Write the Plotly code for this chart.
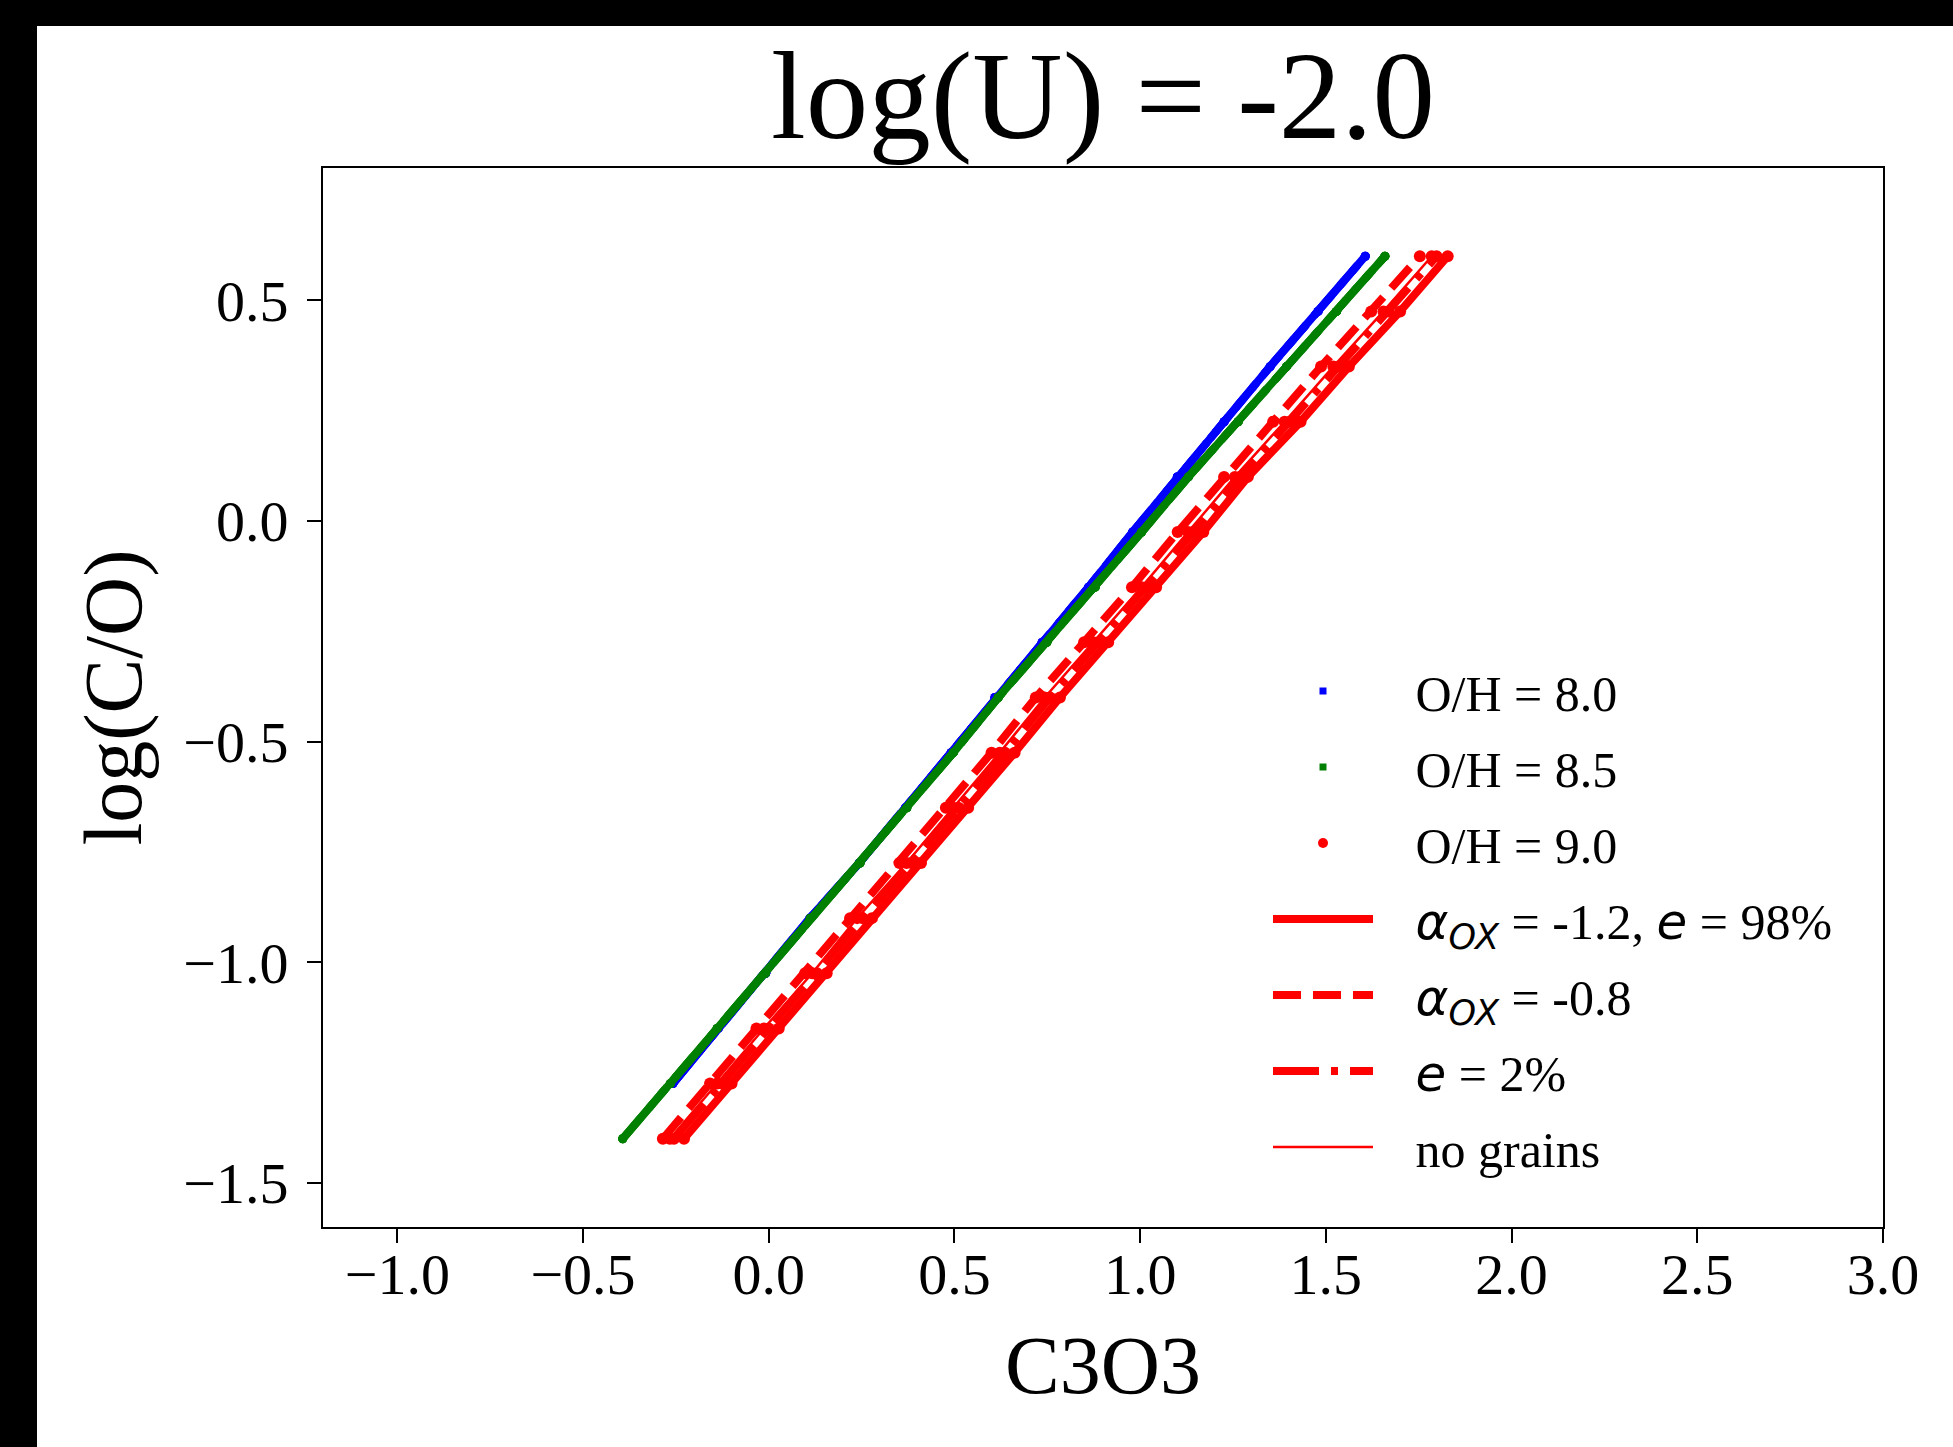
import plotly.graph_objects as go

# log(C/O) grid (y values of every model point)
Y = [-1.4, -1.275, -1.15, -1.025, -0.9, -0.775, -0.65, -0.525, -0.4,
     -0.275, -0.15, -0.025, 0.1, 0.225, 0.35, 0.475, 0.6]
Y_BLUE = Y[1:]

# C3O3 values
BLUE_X = [-0.258, -0.136, -0.008, 0.111, 0.244, 0.368, 0.491, 0.609, 0.736,
          0.861, 0.980, 1.100, 1.226, 1.350, 1.479, 1.606]
GREEN_X = [-0.393, -0.265, -0.139, -0.009, 0.112, 0.246, 0.372, 0.497, 0.618,
           0.749, 0.879, 1.004, 1.130, 1.264, 1.394, 1.529, 1.659]
RED_SOLID_X = [-0.228, -0.100, 0.027, 0.156, 0.278, 0.410, 0.537, 0.662, 0.784,
               0.914, 1.043, 1.170, 1.290, 1.432, 1.562, 1.700, 1.828]
RED_DASH_X = [-0.285, -0.158, -0.033, 0.098, 0.219, 0.352, 0.477, 0.600, 0.719,
              0.849, 0.978, 1.101, 1.226, 1.358, 1.487, 1.622, 1.753]
RED_DASHDOT_X = [-0.255, -0.127, 0.000, 0.130, 0.252, 0.385, 0.511, 0.636, 0.757,
                 0.888, 1.018, 1.143, 1.269, 1.403, 1.534, 1.669, 1.798]
RED_THIN_X = [-0.266, -0.139, -0.013, 0.117, 0.238, 0.371, 0.497, 0.622, 0.743,
              0.874, 1.004, 1.129, 1.255, 1.389, 1.520, 1.655, 1.785]

GAP = "\u00a0\u00a0\u00a0"
OH_LABELS = ["O/H = 8.0", "O/H = 8.5", "O/H = 9.0"]
MODEL_LABELS = [
    "<span style='font-family:DejaVu Sans'><i>α</i><sub><i>OX</i></sub></span> = -1.2, "
    "<span style='font-family:DejaVu Sans'><i>e</i></span> = 98%",
    "<span style='font-family:DejaVu Sans'><i>α</i><sub><i>OX</i></sub></span> = -0.8",
    "<span style='font-family:DejaVu Sans'><i>e</i></span> = 2%",
    "no grains",
]

BLUE, GREEN, RED = "#0000ff", "#008000", "#ff0000"
THICK, THIN = 8, 2.5
DASH = "28px,12px"
DASHDOT = "46px,12px,7px,12px"

fig = go.Figure()

def add_series(xs, ys, color, dash, width, msize, msym):
    fig.add_trace(go.Scatter(
        x=xs, y=ys, mode="lines+markers", showlegend=False,
        line=dict(color=color, width=width, dash=dash),
        marker=dict(color=color, size=msize, symbol=msym, line=dict(width=0)),
        hoverinfo="skip"))

styles = [("solid", THICK), (DASH, THICK), (DASHDOT, THICK), ("solid", THIN)]
for dash, w in styles:
    add_series(BLUE_X, Y_BLUE, BLUE, dash, w, 9, "circle")
for dash, w in styles:
    add_series(GREEN_X, Y, GREEN, dash, w, 9, "circle")
for xs, (dash, w) in zip([RED_SOLID_X, RED_DASH_X, RED_DASHDOT_X, RED_THIN_X], styles):
    add_series(xs, Y, RED, dash, w, 12, "circle")

# legend entries
for i, (lab, col, sym, sz) in enumerate(zip(OH_LABELS, [BLUE, GREEN, RED],
                                           ["square", "square", "circle"], [7, 7, 10])):
    fig.add_trace(go.Scatter(x=[None], y=[None], mode="markers", name=GAP + lab,
                             legendgroup=f"g{i}",
                             marker=dict(color=col, size=sz, symbol=sym, line=dict(width=0))))
for j, (lab, (dash, w)) in enumerate(zip(MODEL_LABELS, styles)):
    fig.add_trace(go.Scatter(x=[None], y=[None], mode="lines", name=GAP + lab,
                             legendgroup=f"m{j}",
                             line=dict(color=RED, width=w, dash=dash)))

L, R, T, B = 323, 70, 168, 220
W, H = 1953, 1447
PW, PH = W - L - R, H - T - B

def px_x(p):
    return (p - L) / PW

def px_y(p):
    return (H - B - p) / PH

# black strips on top and left edges of the picture
fig.add_shape(type="rect", xref="paper", yref="paper", x0=px_x(0), x1=px_x(37),
              y0=px_y(H), y1=px_y(0), fillcolor="black", line=dict(width=0), layer="above")
fig.add_shape(type="rect", xref="paper", yref="paper", x0=px_x(0), x1=px_x(W),
              y0=px_y(26), y1=px_y(0), fillcolor="black", line=dict(width=0), layer="above")

fig.add_annotation(text="log(U) = -2.0", xref="paper", yref="paper", x=0.5, y=px_y(96),
                   xanchor="center", yanchor="middle", showarrow=False,
                   font=dict(size=125, family="Liberation Serif", color="black"))

axis_common = dict(showline=True, linecolor="black", linewidth=2, mirror=True,
                   ticks="outside", ticklen=14, tickwidth=2, tickcolor="black",
                   showgrid=False, zeroline=False, tickformat=".1f",
                   tickfont=dict(size=58, family="Liberation Serif", color="black"))

fig.update_xaxes(range=[-1.2, 3.0], dtick=0.5, tick0=0, ticklabelstandoff=-19,
                 title=dict(text="C3O3", font=dict(size=82, family="Liberation Serif"), standoff=30),
                 **axis_common)
fig.update_yaxes(range=[-1.6, 0.8], dtick=0.5, tick0=0, ticklabelstandoff=7,
                 title=dict(text="log(C/O)", font=dict(size=82, family="Liberation Serif"), standoff=14),
                 **axis_common)

fig.update_layout(
    width=W, height=H, margin=dict(l=L, r=R, t=T, b=B, autoexpand=False),
    paper_bgcolor="white", plot_bgcolor="white",
    font=dict(family="Liberation Serif", color="black"),
    legend=dict(x=px_x(1268), xanchor="left", y=px_y(652), yanchor="top",
                bgcolor="rgba(0,0,0,0)", borderwidth=0, itemwidth=100,
                tracegroupgap=8, font=dict(size=50, family="Liberation Serif", color="black")),
)

fig.write_html("out.html")
